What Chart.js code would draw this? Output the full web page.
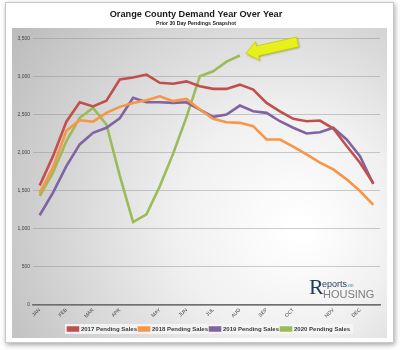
<!DOCTYPE html>
<html>
<head>
<meta charset="utf-8">
<script src="https://cdn.jsdelivr.net/npm/chart.js@4.4.1/dist/chart.umd.min.js"></script>
<style>
  html, body { margin:0; padding:0; background:#ffffff; }
  #wrap { position:relative; width:400px; height:350px; overflow:hidden; }
  #c { position:absolute; left:0; top:0; }
  .logo { position:absolute; font-family:"Liberation Sans", Arial, sans-serif; white-space:nowrap; line-height:1; }
</style>
</head>
<body>
<div id="wrap">
  <canvas id="c" width="400" height="350"></canvas>
  <div class="logo" style="left:309px;top:276px;font-size:22px;color:#1f3a5c;font-family:'Liberation Serif',serif;">R</div>
  <div class="logo" style="left:322px;top:280px;font-size:9px;color:#1f3a5c;">eports<span style="font-size:5px;color:#3b8db5;margin-left:1px;">on</span></div>
  <div class="logo" style="left:323px;top:289px;font-size:11px;color:#7d7d7d;">HOUSING</div>
</div>
<script>
// ---- data ----
const monthNames = ['JAN','FEB','MAR','APR','MAY','JUN','JUL','AUG','SEP','OCT','NOV','DEC'];
const monthAt    = [0, 2, 4, 6, 9, 11, 13, 15, 17, 19, 22, 24];
const pointCount = 26;

const sales2017 = [1570,1957,2410,2665,2610,2685,2965,2990,3030,2922,2908,2940,2875,2842,2841,2897,2832,2657,2547,2448,2416,2425,2320,2090,1870,1600];
const sales2018 = [1470,1810,2290,2430,2410,2526,2605,2657,2692,2744,2680,2710,2570,2448,2403,2395,2351,2176,2176,2081,1980,1871,1783,1652,1499,1315];
const sales2019 = [1180,1478,1826,2111,2264,2330,2455,2723,2665,2665,2657,2665,2570,2474,2504,2622,2547,2526,2416,2330,2255,2272,2330,2176,1957,1590];
const sales2020 = [1433,1740,2154,2461,2592,2373,1700,1090,1193,1560,1990,2470,3006,3072,3200,3280];

const seriesNames = ['2017 Pending Sales','2018 Pending Sales','2019 Pending Sales','2020 Pending Sales'];
const seriesColors = ['#c0504d','#f79646','#8064a2','#9bbb59'];

const xLabels = [];
for (let i = 0; i < pointCount; i++) {
  const k = monthAt.indexOf(i);
  xLabels.push(k >= 0 ? monthNames[k] : '');
}

const backgroundPlugin = {
  id: 'bgPlugin',
  afterLayout(chart) {
    if (chart.legend) {
      chart.legend.left += 13;
      chart.legend.right += 13;
    }
  },
  beforeDraw(chart) {
    const ctx = chart.ctx;
    ctx.save();
    ctx.fillStyle = '#ffffff';
    ctx.fillRect(0, 0, 400, 350);
    ctx.shadowColor = 'rgba(0,0,0,0.35)';
    ctx.shadowBlur = 5;
    ctx.shadowOffsetX = 1;
    ctx.shadowOffsetY = 2;
    ctx.fillStyle = '#ffffff';
    ctx.fillRect(5, 2, 389, 341);
    ctx.shadowColor = 'transparent';
    ctx.strokeStyle = '#c8c8c8';
    ctx.lineWidth = 1;
    ctx.strokeRect(5.5, 2.5, 388, 340);
    const g = ctx.createRadialGradient(300, 230, 10, 260, 210, 300);
    g.addColorStop(0, '#ffffff');
    g.addColorStop(0.35, '#f0f0f0');
    g.addColorStop(1, '#bdbdbd');
    ctx.fillStyle = g;
    ctx.fillRect(12, 28, 375, 310);
    const boxes = chart.legend && chart.legend.legendHitBoxes;
    if (boxes && boxes.length) {
      const first = boxes[0], last = boxes[boxes.length - 1];
      ctx.fillStyle = 'rgba(245,245,245,0.9)';
      ctx.fillRect(first.left - 3, first.top - 2, last.left + last.width - first.left + 6, first.height + 4);
    }
    ctx.restore();
  },
  afterDatasetsDraw(chart) {
    const meta = chart.getDatasetMeta(3);
    const pt = meta.data[sales2020.length - 1];
    if (!pt) return;
    const ctx = chart.ctx;
    ctx.save();
    ctx.translate(pt.x + 6, pt.y - 2);
    ctx.rotate(-0.22);
    ctx.beginPath();
    ctx.moveTo(0, 0);
    ctx.lineTo(12, -9.5);
    ctx.lineTo(12, -5);
    ctx.lineTo(53, -5);
    ctx.lineTo(53, 5);
    ctx.lineTo(12, 5);
    ctx.lineTo(12, 9.5);
    ctx.closePath();
    ctx.shadowColor = 'rgba(90,90,0,0.5)';
    ctx.shadowBlur = 2;
    ctx.shadowOffsetX = 1;
    ctx.shadowOffsetY = 1;
    ctx.fillStyle = '#e8f01c';
    ctx.fill();
    ctx.shadowColor = 'transparent';
    ctx.strokeStyle = '#c9cf10';
    ctx.lineWidth = 0.8;
    ctx.stroke();
    ctx.restore();
  }
};

const datasetsData = [sales2017, sales2018, sales2019, sales2020];

new Chart(document.getElementById('c'), {
  type: 'line',
  data: {
    labels: xLabels,
    datasets: datasetsData.map((d, i) => ({
      label: seriesNames[i],
      data: d,
      borderColor: seriesColors[i],
      backgroundColor: seriesColors[i],
      borderWidth: 2.6,
      pointRadius: 0,
      tension: 0,
      fill: false
    }))
  },
  options: {
    responsive: false,
    animation: false,
    devicePixelRatio: 1,
    layout: { padding: { left: 12, right: 20, top: 0, bottom: 8 } },
    plugins: {
      title: {
        display: true,
        text: 'Orange County Demand Year Over Year',
        font: { family: '"Liberation Sans", Arial, sans-serif', size: 9.2, weight: 'bold' },
        color: '#1a1a1a',
        padding: { top: 9, bottom: 0.5 }
      },
      subtitle: {
        display: true,
        text: 'Prior 30 Day Pendings Snapshot',
        font: { family: '"Liberation Sans", Arial, sans-serif', size: 5.2, weight: 'bold' },
        color: '#222222',
        padding: { top: 0, bottom: 12 }
      },
      legend: {
        position: 'bottom',
        labels: {
          boxWidth: 10,
          boxHeight: 3,
          padding: 2,
          color: '#3a3a3a',
          font: { family: '"Liberation Sans", Arial, sans-serif', size: 6, weight: 'bold' }
        }
      },
      tooltip: { enabled: false }
    },
    scales: {
      x: {
        offset: true,
        grid: { display: false, drawTicks: false },
        border: { display: true, color: '#6e6e6e', width: 1.5 },
        ticks: {
          autoSkip: false,
          minRotation: 45,
          maxRotation: 45,
          padding: 2,
          color: '#404040',
          font: { family: '"Liberation Sans", Arial, sans-serif', size: 5 }
        },
        afterFit(scale) { scale.height = 19; }
      },
      y: {
        min: 0,
        max: 3500,
        grid: { color: 'rgba(140,140,140,0.55)', lineWidth: 0.8, drawTicks: false },
        border: { display: false },
        ticks: {
          stepSize: 500,
          padding: 3,
          color: '#404040',
          font: { family: '"Liberation Sans", Arial, sans-serif', size: 5 }
        },
        afterFit(scale) { scale.width = 21; }
      }
    }
  },
  plugins: [backgroundPlugin]
});
</script>
</body>
</html>
